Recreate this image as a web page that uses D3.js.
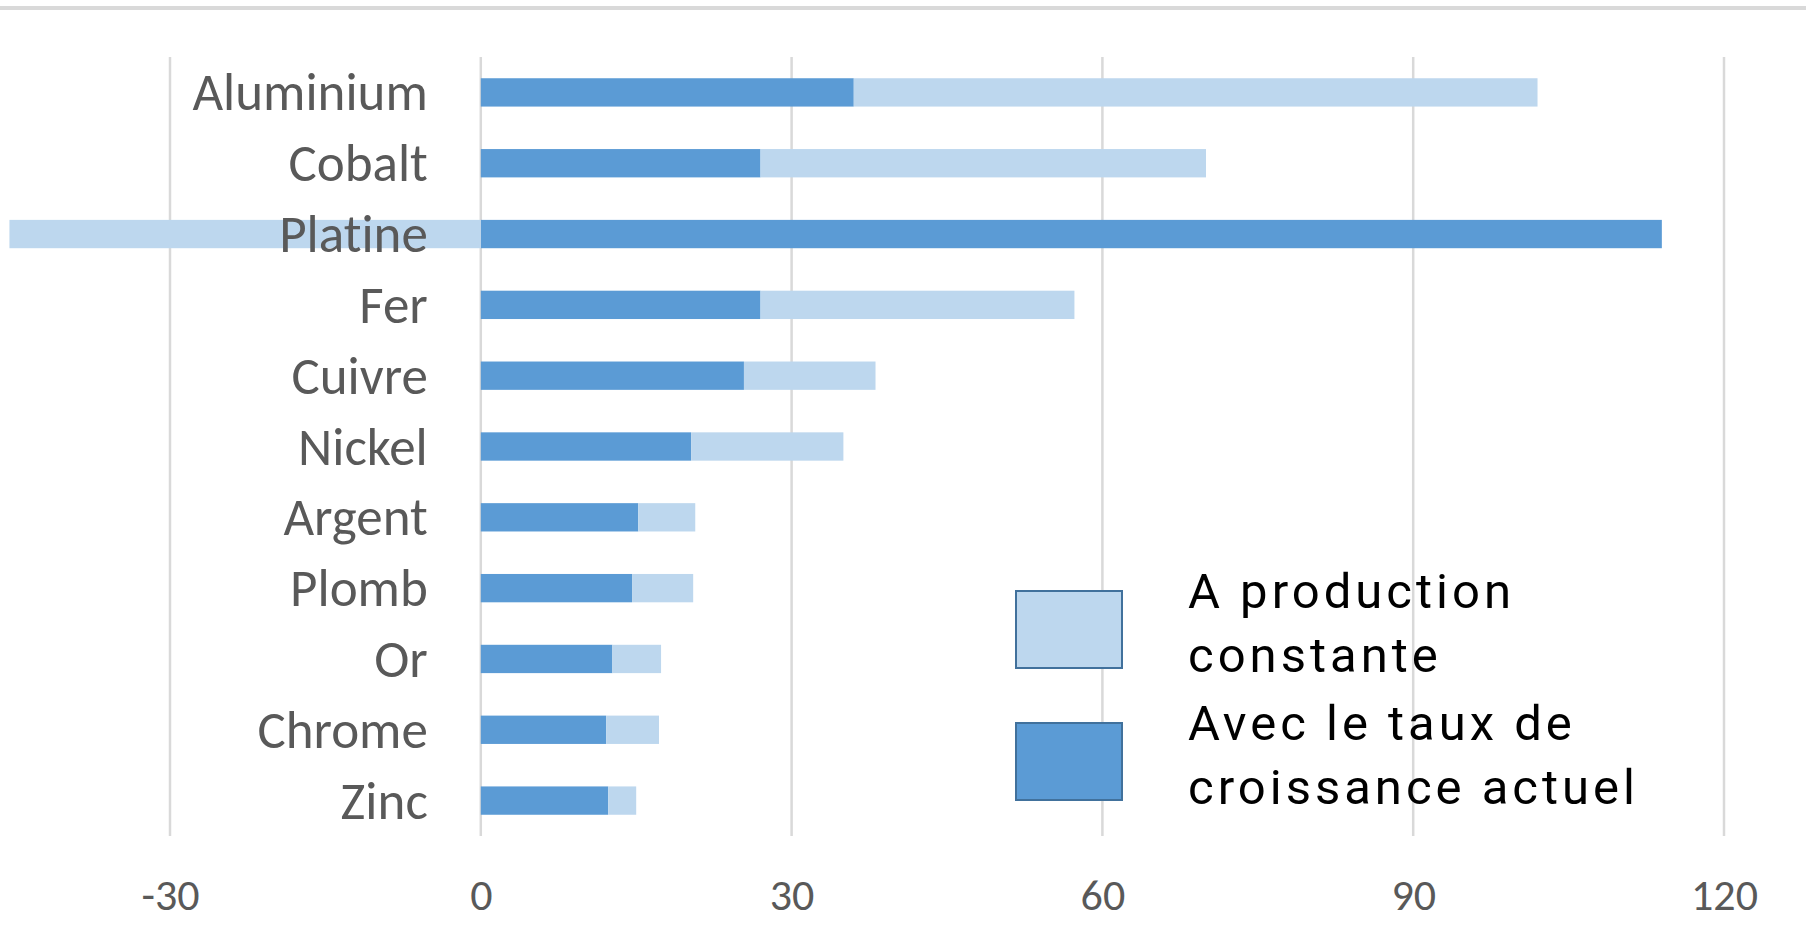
<!DOCTYPE html>
<html><head><meta charset="utf-8">
<script src="https://cdn.jsdelivr.net/npm/d3@7"></script>
<style>body{margin:0;background:#fff;overflow:hidden} text{font-variant-ligatures:none;font-feature-settings:"liga" 0}</style></head>
<body><svg id="c" width="1806" height="925"></svg>
<script>
const categories = ["Aluminium","Cobalt","Platine","Fer","Cuivre","Nickel","Argent","Plomb","Or","Chrome","Zinc"];
const croissanceActuel = [36, 27, 114, 27, 25.4, 20.3, 15.2, 14.6, 12.7, 12.1, 12.3];
const productionConstante = [66, 43, -45.5, 30.3, 12.7, 14.7, 5.5, 5.9, 4.7, 5.1, 2.7];
const xTicks = [-30, 0, 30, 60, 90, 120];
const seriesNames = ["A production constante", "Avec le taux de croissance actuel"];
const legendLines = [["A production", "constante"], ["Avec le taux de", "croissance actuel"]];

const FONT = "Calibri, Carlito, Lato, sans-serif";
const LEGEND_FONT = "Roboto, 'Noto Sans', sans-serif";
const DARK = "#5B9BD5", LIGHT = "#BDD7EE";

const svg = d3.select("#c");
const W = 1806, H = 925;

// top border line
svg.append("rect").attr("x", 0).attr("y", 6).attr("width", W).attr("height", 4).attr("fill", "#d9d9d9");

const x = d3.scaleLinear().domain([-30, 120]).range([170, 1724]);
const y = d3.scaleBand().domain(categories).range([57, 836]).paddingInner(0.6).paddingOuter(0.3);

const rows = categories.map((c, i) => ({cat: c, actuel: croissanceActuel[i], constante: productionConstante[i]}));
const stacked = d3.stack().keys(["actuel", "constante"]).offset(d3.stackOffsetDiverging)(rows);
const color = {actuel: DARK, constante: LIGHT};

// gridlines
svg.append("g").selectAll("line").data(xTicks).join("line")
  .attr("x1", d => x(d)).attr("x2", d => x(d))
  .attr("y1", 57).attr("y2", 836)
  .attr("stroke", "#d9d9d9").attr("stroke-width", 2.5);

// bars
svg.append("g").selectAll("g").data(stacked).join("g")
  .attr("fill", d => color[d.key])
  .selectAll("rect").data(d => d).join("rect")
  .attr("x", d => x(Math.min(d[0], d[1])))
  .attr("width", d => Math.abs(x(d[1]) - x(d[0])))
  .attr("y", d => y(d.data.cat))
  .attr("height", y.bandwidth());

// category axis
const yAxis = svg.append("g").attr("transform", `translate(${x(0)},0)`)
  .call(d3.axisLeft(y).tickSize(0).tickPadding(53));
yAxis.select(".domain").remove();
yAxis.selectAll("text").attr("font-family", FONT).attr("font-size", 53).attr("fill", "#595959").attr("dy", "0.34em");

// value axis
const xAxis = svg.append("g").attr("transform", `translate(0,876)`)
  .call(d3.axisBottom(x).tickValues(xTicks).tickFormat(d => String(d)).tickSize(0).tickPadding(0));
xAxis.select(".domain").remove();
xAxis.selectAll("text").attr("font-family", FONT).attr("font-size", 44).attr("fill", "#595959")
  .attr("dy", 0).attr("y", 34);

// legend
const lg = svg.append("g").attr("transform", "translate(1016,591)");
const items = [{key: "constante", lines: legendLines[0]}, {key: "actuel", lines: legendLines[1]}];
items.forEach((it, i) => {
  const g = lg.append("g").attr("transform", `translate(0,${i * 132})`);
  g.append("rect").attr("x", 0).attr("y", 0).attr("width", 106).attr("height", 77)
    .attr("fill", color[it.key]).attr("stroke", "#41719C").attr("stroke-width", 2);
  const t = g.append("text").attr("font-family", LEGEND_FONT).attr("font-size", 49)
    .attr("letter-spacing", 4).attr("fill", "#000");
  it.lines.forEach((l, j) => t.append("tspan").attr("x", 172).attr("y", 17 + j * 64).text(l));
});
</script></body></html>
